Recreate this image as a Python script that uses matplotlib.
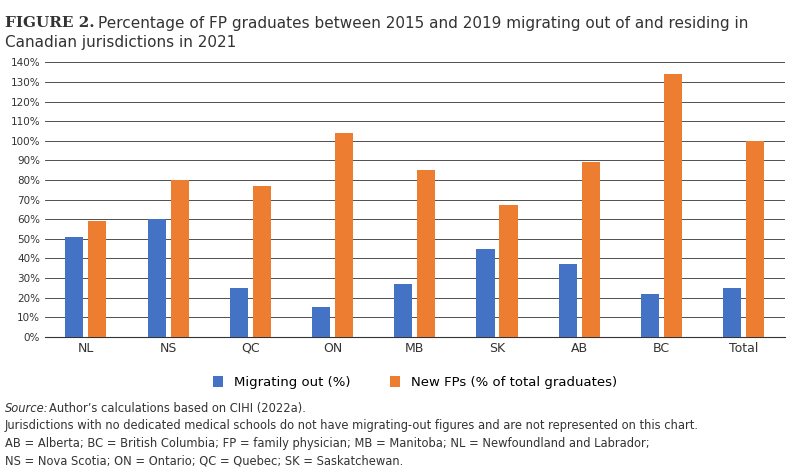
import matplotlib.pyplot as plt
import numpy as np

categories = ["NL", "NS", "QC", "ON", "MB", "SK", "AB", "BC", "Total"]
migrating_out = [51, 60, 25, 15, 27, 45, 37, 22, 25]
new_fps = [59, 80, 77, 104, 85, 67, 89, 134, 100]

fig = plt.figure(figsize=(8, 4.69), dpi=100)
ax = fig.add_axes([0.056, 0.282, 0.925, 0.585])

x = np.arange(len(categories))
w = 0.22
ax.bar(x - 0.14, migrating_out, w, color="#4472C4", label="Migrating out (%)", zorder=3)
ax.bar(x + 0.14, new_fps, w, color="#ED7D31", label="New FPs (% of total graduates)", zorder=3)

ax.set_ylim(0, 140)
ax.set_yticks(range(0, 141, 10))
ax.set_yticklabels([f"{v}%" for v in range(0, 141, 10)], fontsize=7.5, color="#333333")
ax.set_xticks(x)
ax.set_xticklabels(categories, fontsize=9, color="#333333")
ax.set_xlim(-0.5, len(categories) - 0.5)
ax.yaxis.grid(True, color="#333333", linewidth=0.6, zorder=0)
ax.tick_params(length=0)
for s in ["top", "right", "left"]:
    ax.spines[s].set_visible(False)
ax.spines["bottom"].set_color("#333333")

ax.legend(loc="upper center", bbox_to_anchor=(0.5, -0.1), ncol=2, frameon=False,
          fontsize=9.5, handlelength=0.8, handleheight=0.8, columnspacing=3)

fig.text(0.006, 0.965, "FIGURE 2.", fontsize=11, fontweight="bold", family="DejaVu Serif",
         color="#333333", va="top")
fig.text(0.122, 0.965, "Percentage of FP graduates between 2015 and 2019 migrating out of and residing in",
         fontsize=11, color="#333333", va="top")
fig.text(0.006, 0.925, "Canadian jurisdictions in 2021", fontsize=11, color="#333333", va="top")

notes = [
    "Jurisdictions with no dedicated medical schools do not have migrating-out figures and are not represented on this chart.",
    "AB = Alberta; BC = British Columbia; FP = family physician; MB = Manitoba; NL = Newfoundland and Labrador;",
    "NS = Nova Scotia; ON = Ontario; QC = Quebec; SK = Saskatchewan.",
]
fig.text(0.006, 0.115, "Source:", fontsize=8.3, style="italic", color="#333333", va="bottom")
fig.text(0.061, 0.115, "Author\u2019s calculations based on CIHI (2022a).", fontsize=8.3, color="#333333", va="bottom")
for i, n in enumerate(notes):
    fig.text(0.006, 0.078 - i * 0.037, n, fontsize=8.3, color="#333333", va="bottom")

fig.savefig("out.png", dpi=100)
